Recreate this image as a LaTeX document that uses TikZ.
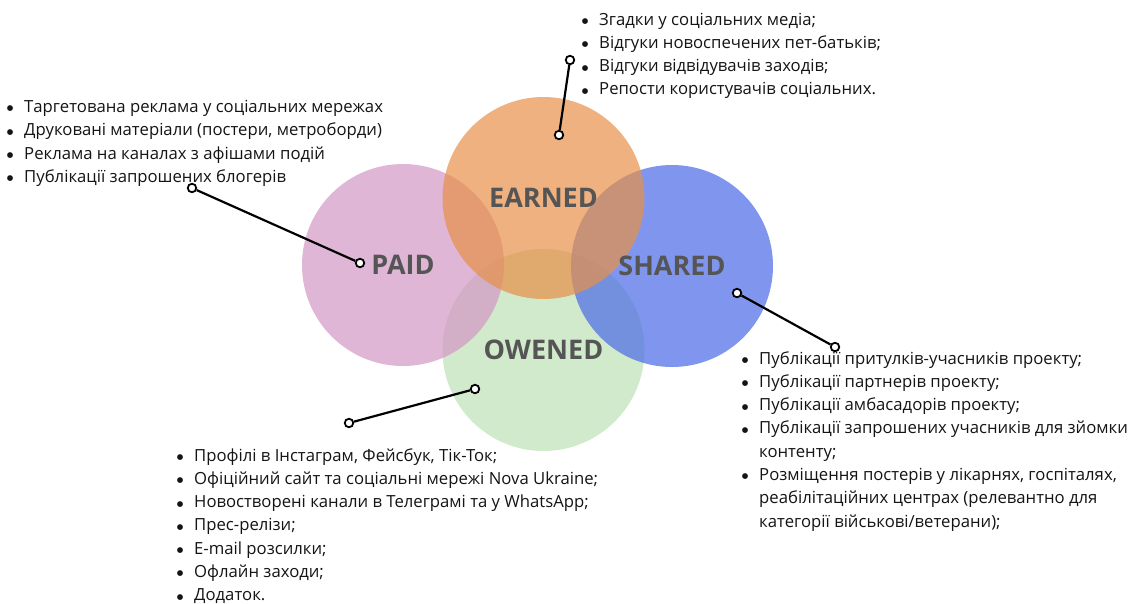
\documentclass[tikz,border=0pt]{standalone}
\usepackage{fontspec}
\setmainfont{Open Sans}
\newfontfamily\dotfont{DejaVu Sans}
\usetikzlibrary{positioning,arrows.meta}

% fills, chosen so they mix where the circles overlap
\definecolor{paidc}{RGB}{211,151,196}
\definecolor{earnedc}{RGB}{231,144,72}
\definecolor{sharedc}{RGB}{74,106,231}
\definecolor{owenedc}{RGB}{189,225,181}
\definecolor{tagc}{RGB}{85,85,85}
\definecolor{inkc}{RGB}{20,20,20}

\tikzset{
  bubble/.style={circle, minimum size=202pt, inner sep=0pt, fill opacity=0.7},
  tag/.style={font=\fontsize{27}{30}\selectfont\bfseries, text=tagc, inner sep=0pt},
  notes/.style={font=\fontsize{16.7}{23.3}\selectfont, text=inkc, inner sep=0pt, anchor=base west},
  pindot/.style={circle, draw=black, fill=white, line width=1.8pt, minimum size=8.5pt, inner sep=0pt},
  leader/.style={line width=2.2pt},
}

% bullet hanging left of the item text
\newcommand{\bul}{\makebox[0pt]{\raisebox{1.6pt}{\dotfont\fontsize{7.5}{0}\selectfont ●}}\hspace{14pt}}

\begin{document}
\begin{tikzpicture}[x=1pt, y=-1pt]
	\useasboundingbox (0,0) rectangle (1128,603);
	
	% the four circles, green at the bottom, orange on top
	\node[bubble, fill=owenedc] (owened) at (543.5,350) {};
	\node[bubble, fill=paidc] (paid) at (403,265) {};
	\node[bubble, fill=sharedc] (shared) at (672,266) {};
	\node[bubble, fill=earnedc] (earned) at (543.5,198) {};
	
	\node[tag] at (paid) {PAID};
	\node[tag] at (earned) {EARNED};
	\node[tag] at (shared) {SHARED};
	\node[tag] at (owened) {OWENED};
	
	% lists
	\node[notes] (earnedlist) at (585,25) {\begin{tabular}[t]{@{}l@{}}
		\bul Згадки у соціальних медіа;\\
		\bul Відгуки новоспечених пет-батьків;\\
		\bul Відгуки відвідувачів заходів;\\
		\bul Репости користувачів соціальних.
	\end{tabular}};
	
	\node[notes] (paidlist) at (10,112.5) {\begin{tabular}[t]{@{}l@{}}
		\bul Таргетована реклама у соціальних мережах\\
		\bul Друковані матеріали (постери, метроборди)\\
		\bul Реклама на каналах з афішами подій\\
		\bul Публікації запрошених блогерів
	\end{tabular}};
	
	\node[notes] (sharedlist) at (745,364) {\begin{tabular}[t]{@{}l@{}}
		\bul Публікації притулків-учасників проекту;\\
		\bul Публікації партнерів проекту;\\
		\bul Публікації амбасадорів проекту;\\
		\bul Публікації запрошених учасників для зйомки\\
		\hspace{14pt}контенту;\\
		\bul Розміщення постерів у лікарнях, госпіталях,\\
		\hspace{14pt}реабілітаційних центрах (релевантно для\\
		\hspace{14pt}категорії військові/ветерани);
	\end{tabular}};
	
	\node[notes] (owenedlist) at (180,461) {\begin{tabular}[t]{@{}l@{}}
		\bul Профілі в Інстаграм, Фейсбук, Тік-Ток;\\
		\bul Офіційний сайт та соціальні мережі Nova Ukraine;\\
		\bul Новостворені канали в Телеграмі та у WhatsApp;\\
		\bul Прес-релізи;\\
		\bul E-mail розсилки;\\
		\bul Офлайн заходи;\\
		\bul Додаток.
	\end{tabular}};
	
	% leaders from each circle to its list
	\node[pindot] (earnedin) at (559,135) {};
	\node[pindot] (earnedout) at (570,60) {};
	\node[pindot] (paidin) at (360,263) {};
	\node[pindot] (paidout) at (192,188) {};
	\node[pindot] (sharedin) at (737,293) {};
	\node[pindot] (sharedout) at (835,347) {};
	\node[pindot] (owenedin) at (475,389) {};
	\node[pindot] (owenedout) at (349,423) {};
	
	\draw[leader] (earnedin) -- (earnedout);
	\draw[leader] (paidin) -- (paidout);
	\draw[leader] (sharedin) -- (sharedout);
	\draw[leader] (owenedin) -- (owenedout);
	
\end{tikzpicture}
\end{document}
